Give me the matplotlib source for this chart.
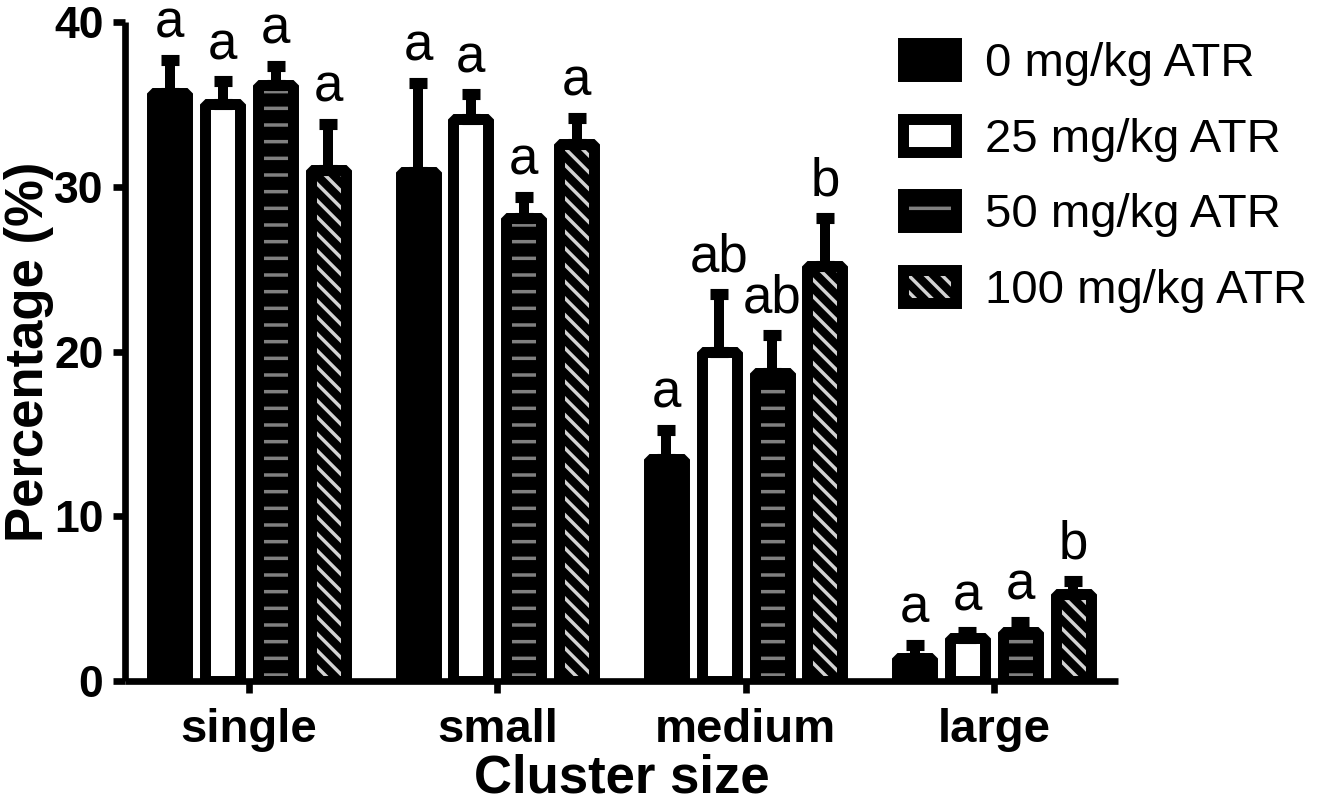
import numpy as np
import matplotlib
matplotlib.use("Agg")
import matplotlib.pyplot as plt
from matplotlib.legend_handler import HandlerTuple

# data
categories = ["single", "small", "medium", "large"]
series_names = ["0 mg/kg ATR", "25 mg/kg ATR", "50 mg/kg ATR", "100 mg/kg ATR"]
atr_0 = [35.7, 30.9, 13.5, 1.4]
atr_0_sem = [2.0, 5.4, 1.75, 0.8]
atr_25 = [35.0, 34.1, 20.0, 2.6]
atr_25_sem = [1.4, 1.5, 3.5, 0.35]
atr_50 = [36.15, 28.1, 18.7, 3.0]
atr_50_sem = [1.2, 1.3, 2.3, 0.6]
atr_100 = [31.0, 32.6, 25.2, 5.3]
atr_100_sem = [2.8, 1.6, 2.9, 0.8]
letters_0 = ["a", "a", "a", "a"]
letters_25 = ["a", "a", "ab", "a"]
letters_50 = ["a", "a", "ab", "a"]
letters_100 = ["a", "a", "b", "b"]

values = [atr_0, atr_25, atr_50, atr_100]
sems = [atr_0_sem, atr_25_sem, atr_50_sem, atr_100_sem]
letters = [letters_0, letters_25, letters_50, letters_100]

# fill colour, hatch, hatch colour per series
styles = [("black", "", "black"),
          ("white", "", "white"),
          ("black", "-", "#808080"),
          ("black", "\\\\", "#d2d2d2")]

plt.rcParams["font.family"] = ["Liberation Sans", "DejaVu Sans"]
plt.rcParams["hatch.linewidth"] = 2.5

fig = plt.figure(figsize=(13.18, 8.08), dpi=100)
ax = fig.add_axes([125 / 1318, 1 - 681 / 808, (1118 - 125) / 1318, (681 - 22) / 808])

x = np.arange(len(categories))
pitch = 0.213
width = 0.141
edge_lw = 7.9

handles = []
for i in range(4):
    pos = x + (i - 1.5) * pitch
    face, hatch, hcol = styles[i]
    fill = ax.bar(pos, values[i], width, color=face, edgecolor=hcol, hatch=hatch,
                  linewidth=0, zorder=2)
    outline = ax.bar(pos, values[i], width, facecolor="none", edgecolor="black",
                     linewidth=edge_lw, joinstyle="bevel", zorder=3)
    ax.errorbar(pos, values[i], yerr=[np.zeros(4), sems[i]], fmt="none",
                ecolor="black", elinewidth=7.2, capsize=6.8, capthick=8, zorder=4)
    for xp, v, s, t in zip(pos, values[i], sems[i], letters[i]):
        ax.annotate(t, (xp, v + s), xytext=(0, 16), textcoords="offset points",
                    ha="center", va="baseline", fontsize=38)
    handles.append((fill, outline))

ax.set_xlim(-0.5, 3.5)
ax.set_ylim(0, 40)
ax.set_yticks([0, 10, 20, 30, 40])
ax.set_xticks(x)
ax.set_xticklabels(categories)

for side in ["top", "right"]:
    ax.spines[side].set_visible(False)
for side in ["left", "bottom"]:
    ax.spines[side].set_linewidth(4.8)
    ax.spines[side].set_capstyle("butt")

ax.tick_params(axis="both", width=4.8, length=8.5)
ax.tick_params(axis="y", labelsize=32, pad=7)
ax.tick_params(axis="x", labelsize=34, pad=11)
for lab in ax.get_xticklabels() + ax.get_yticklabels():
    lab.set_fontweight("bold")

ax.set_ylabel("Percentage (%)", fontsize=38, fontweight="bold", labelpad=0)
ax.set_xlabel("Cluster size", fontsize=38, fontweight="bold", labelpad=1)

leg = ax.legend(handles, series_names,
                handler_map={tuple: HandlerTuple(ndivide=1, pad=0)},
                loc="upper left", bbox_to_anchor=(903 / 1318, 1 - 42 / 808),
                bbox_transform=fig.transFigure, frameon=False, fontsize=34,
                borderpad=0, borderaxespad=0, handlelength=1.12, handleheight=0.7,
                handletextpad=0.62, labelspacing=0.67)
for p in leg.get_patches():
    p.set_joinstyle("bevel")

fig.savefig("out.png", dpi=100)
